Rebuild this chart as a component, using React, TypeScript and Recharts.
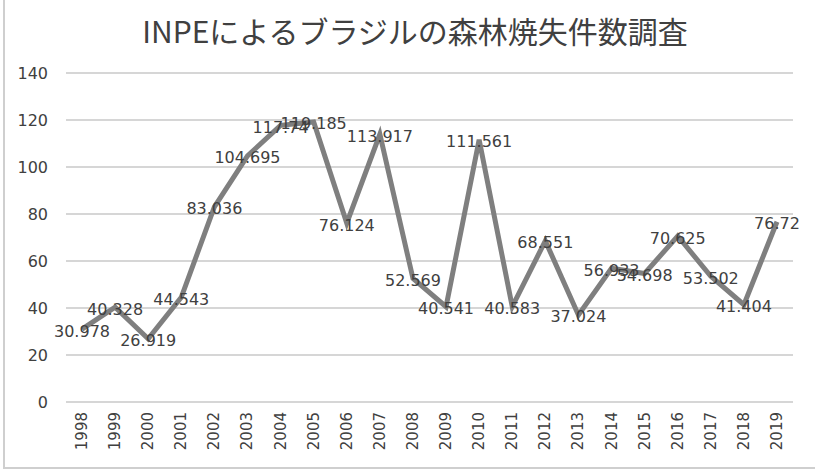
import React from "react";
import { LineChart, Line, XAxis, YAxis, CartesianGrid, LabelList } from "recharts";

const years = [
  "1998", "1999", "2000", "2001", "2002", "2003", "2004", "2005", "2006", "2007", "2008",
  "2009", "2010", "2011", "2012", "2013", "2014", "2015", "2016", "2017", "2018", "2019",
];
const fires = [
  30.978, 40.328, 26.919, 44.543, 83.036, 104.695, 117.74, 119.185, 76.124, 113.917, 52.569,
  40.541, 111.561, 40.583, 68.551, 37.024, 56.933, 54.698, 70.625, 53.502, 41.404, 76.72,
];
const yTicks = [0, 20, 40, 60, 80, 100, 120, 140];

const data = years.map((year, i) => ({ year, value: fires[i] }));

const ink = "#404040";
const labelFont = "'DejaVu Sans', Verdana, sans-serif";

function YearTick({ x, y, payload }: any) {
  return (
    <g transform={`translate(${x},${y + 2}) rotate(-90)`}>
      <text textAnchor="end" dominantBaseline="central" fill={ink} fontSize={15} fontFamily={labelFont}>
        {payload.value}
      </text>
    </g>
  );
}

function ValueLabel({ x, y, value }: any) {
  return (
    <text
      x={x}
      y={y + 2}
      textAnchor="middle"
      dominantBaseline="central"
      fill={ink}
      fontSize={16}
      fontFamily={labelFont}
    >
      {value}
    </text>
  );
}

export default function App() {
  return (
    <div style={{ position: "absolute", left: 0, top: 0, width: 815, height: 475, background: "#fff" }}>
      <div
        style={{
          position: "absolute",
          left: 3,
          top: 0,
          width: 812,
          height: 467,
          borderLeft: "2px solid #cfcfcf",
          borderBottom: "2px solid #cfcfcf",
        }}
      />
      <div
        style={{
          position: "absolute",
          left: 0,
          top: 9,
          width: 830,
          textAlign: "center",
          fontFamily: "'Noto Sans CJK JP', sans-serif",
          fontSize: 30,
          color: ink,
          lineHeight: "42px",
        }}
      >
        INPEによるブラジルの森林焼失件数調査
      </div>
      <LineChart
        width={815}
        height={475}
        data={data}
        margin={{ top: 73, right: 22, bottom: 0, left: 6 }}
        style={{ position: "absolute", left: 0, top: 0 }}
      >
        <CartesianGrid vertical={false} stroke="#d6d6d6" strokeWidth={2} />
        <XAxis
          dataKey="year"
          axisLine={false}
          tickLine={false}
          interval={0}
          padding={{ left: 16, right: 16 }}
          tick={<YearTick />}
          height={73}
        />
        <YAxis
          domain={[0, 140]}
          ticks={yTicks}
          axisLine={false}
          tickLine={false}
          tickSize={0}
          tickMargin={18}
          width={60}
          tick={{ fill: ink, fontSize: 16, fontFamily: labelFont }}
        />
        <Line
          dataKey="value"
          stroke="#7f7f7f"
          strokeWidth={5}
          dot={false}
          isAnimationActive={false}
        >
          <LabelList dataKey="value" content={<ValueLabel />} />
        </Line>
      </LineChart>
    </div>
  );
}
